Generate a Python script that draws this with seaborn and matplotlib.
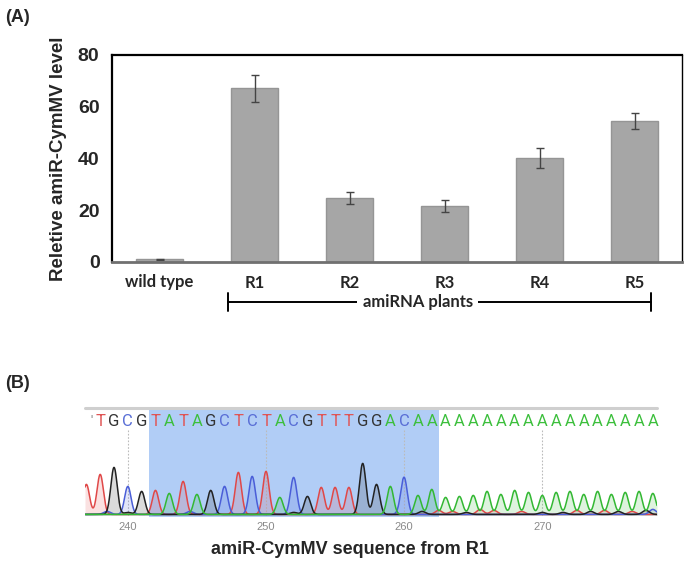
import numpy as np
import pandas as pd
import matplotlib
matplotlib.use("Agg")
import matplotlib.pyplot as plt
import matplotlib.transforms as mtransforms
import seaborn as sns

# ---------------- data: panel A ----------------
categories = ["wild type", "R1", "R2", "R3", "R4", "R5"]
levels = [1.0, 67.1, 24.7, 21.6, 40.2, 54.5]
errors = [0.2, 5.3, 2.3, 2.3, 4.0, 3.0]
y_ticks = [0, 20, 40, 60, 80]
group_label = "amiRNA plants"

# ---------------- data: panel B ----------------
seq_start = 237
bases = list("TTGCG" "TATAGCTCTACGTTTGGACAA" "AAAAAAAAAAAAAAAA")
peak_heights = [30, 40, 47, 28, 23,
                24, 21, 33, 20, 24, 26, 42, 38, 43, 17, 37, 18, 27, 27, 27,
                51, 30, 28, 35, 19, 25,
                17, 18, 19, 23, 20, 24, 22, 19, 22, 23, 20, 23, 20, 22, 23, 21]
highlight = (241.5, 262.5)
pos_ticks = [240, 250, 260, 270]
# minor (background) peaks: position, base, height
minor_pos = [238.5, 240.0, 244.5, 247.0, 252.0, 259.8, 261.3, 262.5, 263.5, 264.5,
             265.5, 266.5, 268.5, 270.0, 271.5, 272.5, 273.5, 274.5, 275.5, 276.5, 277.5, 278.0]
minor_base = ["C", "G", "C", "C", "G", "C", "G", "T", "T", "G",
              "T", "T", "T", "G", "G", "T", "G", "T", "G", "T", "G", "C"]
minor_h = [3, 2, 3, 2, 2, 3, 3, 4, 3, 2,
           5, 4, 3, 2, 2, 4, 3, 4, 3, 3, 4, 5]

base_colors = {"A": "#33b833", "C": "#4a5ed8", "G": "#222222", "T": "#e04848"}
letter_colors = {"A": "#3cbf3c", "C": "#5a6fd6", "G": "#333333", "T": "#e05555"}

# ---------------- figure ----------------
sns.set_theme(style="white")
plt.rcParams["font.family"] = ["Liberation Sans", "DejaVu Sans"]

fig = plt.figure(figsize=(6.85, 5.65), dpi=100)

# ===== Panel A =====
axA = fig.add_axes([112 / 685, 1 - 262 / 565, 570 / 685, 207 / 565])
df = pd.DataFrame({"cat": categories, "val": levels})
sns.barplot(data=df, x="cat", y="val", color="#a6a6a6", saturation=1,
            edgecolor="#959595", linewidth=1.0, width=0.5, errorbar=None, ax=axA)
axA.errorbar(np.arange(len(categories)), levels, yerr=errors, fmt="none",
             ecolor="#444444", elinewidth=1.0, capsize=3, capthick=1.0)
axA.set_xlim(-0.5, len(categories) - 0.5)
axA.set_ylim(0, 80)
axA.set_yticks(y_ticks)
axA.set_yticklabels([str(t) for t in y_ticks], fontsize=14, fontweight="bold")
axA.set_xticks(np.arange(len(categories)))
axA.set_xticklabels(categories, fontsize=12, fontweight="bold", family=["Lato", "DejaVu Sans"])
axA.tick_params(axis="both", length=0)
axA.tick_params(axis="y", pad=9)
axA.tick_params(axis="x", pad=9)
axA.set_xlabel("")
axA.set_ylabel("Reletive amiR-CymMV level", fontsize=13.5, fontweight="bold", labelpad=8)
for side in ["left", "top", "right"]:
    axA.spines[side].set_color("black")
    axA.spines[side].set_linewidth(1.6)
axA.spines["right"].set_linewidth(1.0)
axA.spines["bottom"].set_color("#707070")
axA.spines["bottom"].set_linewidth(2.0)

# bracket for amiRNA plants
trans = mtransforms.blended_transform_factory(axA.transData, axA.transAxes)
yb = -0.193
axA.plot([0.72, 5.17], [yb, yb], color="black", lw=1.4, transform=trans, clip_on=False)
for xe in (0.72, 5.17):
    axA.plot([xe, xe], [yb + 0.045, yb - 0.045], color="black", lw=1.4,
             transform=trans, clip_on=False)
axA.text(2.72, yb, group_label, transform=trans, ha="center", va="center",
         fontsize=12, fontweight="bold", family=["Lato", "DejaVu Sans"],
         bbox=dict(facecolor="white", edgecolor="none", pad=4))

fig.text(5 / 685, 1 - 18 / 565, "(A)", fontsize=13, fontweight="bold", va="center")
fig.text(5 / 685, 1 - 383 / 565, "(B)", fontsize=13, fontweight="bold", va="center")

# ===== Panel B =====
axB = fig.add_axes([85 / 685, 1 - 517 / 565, 572 / 685, 112 / 565])
x0 = seq_start - 0.1
x1 = seq_start + len(bases) - 1 + 0.3
axB.set_xlim(x0, x1)
axB.set_ylim(-2, 110)
axB.axis("off")

axB.axvspan(highlight[0], highlight[1], ymin=0.0, ymax=108 / 112,
            color="#a9c8f5", alpha=0.9, lw=0, zorder=0)
axB.plot([x0, x1], [107.5, 107.5], color="#cfcfcf", lw=2.2, clip_on=False, zorder=1)

positions = np.arange(seq_start, seq_start + len(bases))
xs = np.linspace(x0, x1, 2400)
sigma = 0.23
traces = {}
for b in "ACGT":
    traces[b] = np.zeros_like(xs) + 0.6
for p, b, h in zip(positions, bases, peak_heights):
    traces[b] += h * np.exp(-0.5 * ((xs - p) / sigma) ** 2)
for p, b, h in zip(minor_pos, minor_base, minor_h):
    traces[b] += h * np.exp(-0.5 * ((xs - p) / 0.25) ** 2)

for p in pos_ticks:
    axB.plot([p, p], [0, 86], color="#bbbbbb", lw=0.8, ls=(0, (1.5, 1.5)), zorder=1)
    axB.text(p, -7, str(p), ha="center", va="top", fontsize=8, color="#8a8a8a")

for b in ["T", "C", "G", "A"]:
    c = base_colors[b]
    axB.fill_between(xs, 0, traces[b], color=c, alpha=0.16, lw=0, zorder=2)
    sns.lineplot(x=xs, y=traces[b], color=c, lw=1.1, ax=axB, zorder=3)

for p, b in zip(positions, bases):
    if p < x0 + 0.3:
        axB.text(p + 0.35, 93, "'", ha="center", va="center", fontsize=9,
                 color="#777777", family=["Roboto", "DejaVu Sans"])
        continue
    axB.text(p, 93, b, ha="center", va="center", fontsize=12,
             color=letter_colors[b], family=["Roboto", "DejaVu Sans"])

fig.text(350 / 685, 1 - 550 / 565, "amiR-CymMV sequence from R1", ha="center",
         va="center", fontsize=13, fontweight="bold")

fig.savefig("out.png", dpi=100)
